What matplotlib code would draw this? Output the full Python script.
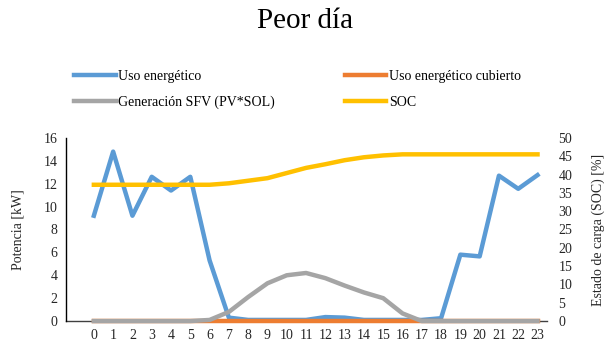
import numpy as np
import matplotlib.pyplot as plt

plt.rcParams['font.family'] = ['Liberation Serif', 'DejaVu Serif']

# Horas del día
horas = list(range(24))

# Potencias [kW]
uso_energetico = [9.2, 14.8, 9.2, 12.6, 11.4, 12.6, 5.3, 0.3, 0.1, 0.1, 0.1, 0.1,
                  0.35, 0.3, 0.1, 0.1, 0.1, 0.1, 0.25, 5.8, 5.65, 12.7, 11.55, 12.75]
uso_cubierto = [0.0] * 24
generacion_sfv = [0, 0, 0, 0, 0, 0, 0.1, 0.8, 2.1, 3.3, 4.0, 4.2,
                  3.75, 3.1, 2.5, 2.0, 0.67, 0, 0, 0, 0, 0, 0, 0]

# Estado de carga [%]
soc = [37.2, 37.2, 37.2, 37.2, 37.2, 37.2, 37.2, 37.6, 38.3, 39.0, 40.4, 41.8,
       42.8, 43.9, 44.7, 45.2, 45.5, 45.5, 45.5, 45.5, 45.5, 45.5, 45.5, 45.5]

azul = '#5B9BD5'
naranja = '#ED7D31'
gris = '#A5A5A5'
amarillo = '#FFC000'

fig = plt.figure(figsize=(6.10, 3.49), dpi=100)
ax1 = fig.add_axes([0.108, 0.080, 0.789, 0.525])
ax2 = ax1.twinx()

lw = 3.2
l1, = ax1.plot(horas, uso_energetico, color=azul, linewidth=lw, label='Uso energético',
               zorder=3, clip_on=False)
l2, = ax1.plot(horas, uso_cubierto, color=naranja, linewidth=lw, label='Uso energético cubierto',
               zorder=4, clip_on=False)
l3, = ax1.plot(horas, generacion_sfv, color=gris, linewidth=lw, label='Generación SFV (PV*SOL)',
               zorder=5, clip_on=False)
l4, = ax2.plot(horas, soc, color=amarillo, linewidth=lw, label='SOC', clip_on=False)

ax1.set_xlim(-1.45, 23.5)
ax1.set_ylim(0, 16)
ax2.set_ylim(0, 50)
ax1.set_xticks(horas)
ax1.set_yticks(np.arange(0, 17, 2))
ax2.set_yticks(np.arange(0, 51, 5))

for ax in (ax1, ax2):
    for s in ['top', 'right', 'left', 'bottom']:
        ax.spines[s].set_visible(False)
ax1.spines['left'].set_visible(True)
ax1.spines['left'].set_color('black')
ax1.spines['left'].set_linewidth(1)
ax1.spines['bottom'].set_visible(True)
ax1.spines['bottom'].set_color('#404040')
ax1.spines['bottom'].set_linewidth(1)
ax1.spines['bottom'].set_zorder(1)

ax1.tick_params(axis='both', length=0, labelsize=10, pad=6)
ax2.tick_params(axis='y', length=0, labelsize=10, pad=8)
for lab in ax1.get_xticklabels() + ax1.get_yticklabels() + ax2.get_yticklabels():
    lab.set_color('#262626')

ax1.set_ylabel('Potencia [kW]', fontsize=10, color='#262626', labelpad=14)
ax2.set_ylabel('Estado de carga (SOC) [%]', fontsize=10, color='#262626', labelpad=14)

fig.text(0.5, 0.94, 'Peor día', ha='center', va='center', fontsize=21, color='black')

# leyenda en dos columnas, ordenada por filas
fig.legend(handles=[l1, l3, l2, l4], loc='upper left', bbox_to_anchor=(0.112, 0.815),
           ncol=2, frameon=False, fontsize=10, handlelength=3.0, handletextpad=0.2,
           columnspacing=5.0, labelspacing=0.9, borderaxespad=0)

fig.savefig('out.png', dpi=100)
